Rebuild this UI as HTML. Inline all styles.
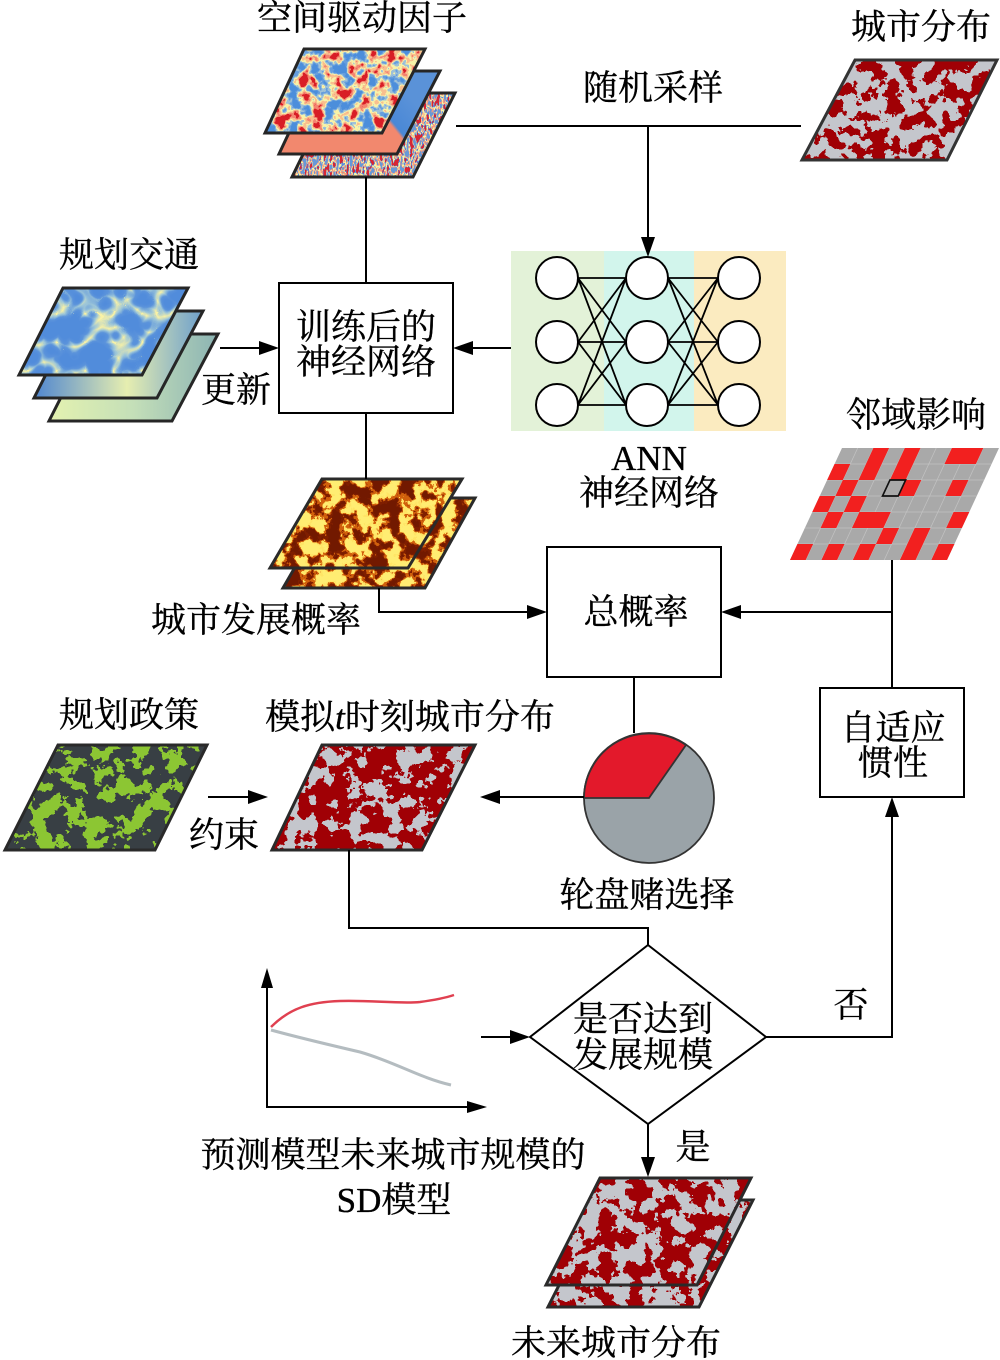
<!DOCTYPE html>
<html><head><meta charset="utf-8"><style>
html,body{margin:0;padding:0;background:#fff;}
svg{display:block;}
text{font-family:"Liberation Serif","Noto Serif CJK SC","Noto Sans CJK SC",serif;font-size:35px;fill:#000;stroke:#000;stroke-width:0.35px;}
</style></head><body>
<svg width="1000" height="1360" viewBox="0 0 1000 1360" xmlns="http://www.w3.org/2000/svg">
<defs>
<filter id="fCity" x="0" y="0" width="1" height="1" color-interpolation-filters="sRGB">
<feTurbulence type="fractalNoise" baseFrequency="0.07" numOctaves="4" seed="5"/>
<feColorMatrix type="matrix" values="3 0 0 0 -0.95  3 0 0 0 -0.95  3 0 0 0 -0.95  0 0 0 0 1"/>
<feComponentTransfer><feFuncR type="discrete" tableValues="0.63 0.77"/><feFuncG type="discrete" tableValues="0.0 0.78"/><feFuncB type="discrete" tableValues="0.02 0.80"/></feComponentTransfer>
<feComposite in2="SourceGraphic" operator="in"/></filter>
<filter id="fSim" x="0" y="0" width="1" height="1" color-interpolation-filters="sRGB">
<feTurbulence type="fractalNoise" baseFrequency="0.06" numOctaves="4" seed="11"/>
<feColorMatrix type="matrix" values="3 0 0 0 -1.1  3 0 0 0 -1.1  3 0 0 0 -1.1  0 0 0 0 1"/>
<feComponentTransfer><feFuncR type="discrete" tableValues="0.63 0.77"/><feFuncG type="discrete" tableValues="0.0 0.78"/><feFuncB type="discrete" tableValues="0.02 0.80"/></feComponentTransfer>
<feComposite in2="SourceGraphic" operator="in"/></filter>
<filter id="fFut" x="0" y="0" width="1" height="1" color-interpolation-filters="sRGB">
<feTurbulence type="fractalNoise" baseFrequency="0.065" numOctaves="4" seed="23"/>
<feColorMatrix type="matrix" values="3 0 0 0 -1.03  3 0 0 0 -1.03  3 0 0 0 -1.03  0 0 0 0 1"/>
<feComponentTransfer><feFuncR type="discrete" tableValues="0.63 0.77"/><feFuncG type="discrete" tableValues="0.0 0.78"/><feFuncB type="discrete" tableValues="0.02 0.80"/></feComponentTransfer>
<feComposite in2="SourceGraphic" operator="in"/></filter>
<filter id="fPol" x="0" y="0" width="1" height="1" color-interpolation-filters="sRGB">
<feTurbulence type="fractalNoise" baseFrequency="0.06" numOctaves="4" seed="7"/>
<feColorMatrix type="matrix" values="3 0 0 0 -1.05  3 0 0 0 -1.05  3 0 0 0 -1.05  0 0 0 0 1"/>
<feComponentTransfer><feFuncR type="discrete" tableValues="0.22 0.55"/><feFuncG type="discrete" tableValues="0.25 0.78"/><feFuncB type="discrete" tableValues="0.27 0.2"/></feComponentTransfer>
<feComposite in2="SourceGraphic" operator="in"/></filter>
<filter id="fProb" x="0" y="0" width="1" height="1" color-interpolation-filters="sRGB">
<feTurbulence type="fractalNoise" baseFrequency="0.07" numOctaves="4" seed="3"/>
<feColorMatrix type="matrix" values="3 0 0 0 -1  3 0 0 0 -1  3 0 0 0 -1  0 0 0 0 1"/>
<feComponentTransfer><feFuncR type="discrete" tableValues="0.45 0.5 0.82 1 1"/><feFuncG type="discrete" tableValues="0.1 0.12 0.38 0.9 0.93"/><feFuncB type="discrete" tableValues="0 0 0.05 0.4 0.45"/></feComponentTransfer>
<feComposite in2="SourceGraphic" operator="in"/></filter>
<filter id="fSp1" x="0" y="0" width="1" height="1" color-interpolation-filters="sRGB">
<feTurbulence type="fractalNoise" baseFrequency="0.08" numOctaves="3" seed="9"/>
<feColorMatrix type="matrix" values="2.5 0 0 0 -0.75  2.5 0 0 0 -0.75  2.5 0 0 0 -0.75  0 0 0 0 1"/>
<feComponentTransfer><feFuncR type="discrete" tableValues="0.3 0.4 0.62 0.97 0.98 0.96 0.85"/><feFuncG type="discrete" tableValues="0.56 0.62 0.76 0.95 0.75 0.52 0.12"/><feFuncB type="discrete" tableValues="0.86 0.87 0.85 0.66 0.56 0.44 0.15"/></feComponentTransfer>
<feComposite in2="SourceGraphic" operator="in"/></filter>
<filter id="fSp3" x="0" y="0" width="1" height="1" color-interpolation-filters="sRGB">
<feTurbulence type="fractalNoise" baseFrequency="0.3 0.12" numOctaves="2" seed="4"/>
<feColorMatrix type="matrix" values="3 0 0 0 -1  3 0 0 0 -1  3 0 0 0 -1  0 0 0 0 1"/>
<feComponentTransfer><feFuncR type="discrete" tableValues="0.85 0.35 0.98 0.98 0.4"/><feFuncG type="discrete" tableValues="0.15 0.55 0.95 0.6 0.6"/><feFuncB type="discrete" tableValues="0.2 0.88 0.65 0.5 0.85"/></feComponentTransfer>
<feComposite in2="SourceGraphic" operator="in"/></filter>
<filter id="fTr" x="0" y="0" width="1" height="1" color-interpolation-filters="sRGB">
<feTurbulence type="turbulence" baseFrequency="0.035" numOctaves="2" seed="6"/>
<feColorMatrix type="matrix" values="2.5 0 0 0 0  2.5 0 0 0 0  2.5 0 0 0 0  0 0 0 0 1"/>
<feComponentTransfer><feFuncR type="table" tableValues="0.98 0.62 0.36 0.32"/><feFuncG type="table" tableValues="0.95 0.78 0.58 0.55"/><feFuncB type="table" tableValues="0.65 0.85 0.86 0.86"/></feComponentTransfer>
<feComposite in2="SourceGraphic" operator="in"/></filter>
<linearGradient id="gTr2" x1="0" y1="0" x2="1" y2="0">
<stop offset="0" stop-color="#4f86d0"/><stop offset="0.55" stop-color="#e6eeb0"/><stop offset="1" stop-color="#6d9fcc"/></linearGradient>
<linearGradient id="gTr3" x1="0" y1="0" x2="1" y2="0">
<stop offset="0" stop-color="#e4f2b0"/><stop offset="0.5" stop-color="#c4dfb8"/><stop offset="1" stop-color="#8cb4b4"/></linearGradient>
<linearGradient id="gSp2" gradientUnits="userSpaceOnUse" x1="370" y1="150" x2="420" y2="110">
<stop offset="0" stop-color="#f2886e"/><stop offset="0.5" stop-color="#f2886e"/><stop offset="0.55" stop-color="#4a88d6"/><stop offset="1" stop-color="#5a92d8"/></linearGradient>
</defs>

<!-- Spatial driving factor layers -->
<polygon points="333,93 455,93 413,177 292,177" fill="#000" filter="url(#fSp3)"/>
<polygon points="333,93 455,93 413,177 292,177" fill="none" stroke="#262626" stroke-width="3"/>
<polygon points="318,71 440,71 397,154 279,154" fill="url(#gSp2)" stroke="#262626" stroke-width="3"/>
<polygon points="304,49 425,49 382,133 265,133" fill="#000" filter="url(#fSp1)"/>
<polygon points="304,49 425,49 382,133 265,133" fill="none" stroke="#262626" stroke-width="3"/>

<!-- Traffic layers -->
<polygon points="93,334 218,334 172,421 49,421" fill="url(#gTr3)" stroke="#262626" stroke-width="3"/>
<polygon points="78,311 203,311 157,398 34,398" fill="url(#gTr2)" stroke="#262626" stroke-width="3"/>
<polygon points="63,288 188,288 142,375 19,375" fill="#000" filter="url(#fTr)"/>
<polygon points="63,288 188,288 142,375 19,375" fill="none" stroke="#262626" stroke-width="3"/>

<!-- City distribution top right -->
<polygon points="855,60 997,60 947,160 802,160" fill="#000" filter="url(#fCity)"/>
<polygon points="855,60 997,60 947,160 802,160" fill="none" stroke="#333" stroke-width="3"/>

<!-- ANN -->
<rect x="511" y="251" width="93" height="180" fill="#e3f2d8"/>
<rect x="604" y="251" width="90" height="180" fill="#d2f5ec"/>
<rect x="694" y="251" width="92" height="180" fill="#fbebc0"/>
<g stroke="#000" stroke-width="1.8">
<path d="M578 278L626 278M578 278L626 342M578 278L626 405M578 342L626 278M578 342L626 342M578 342L626 405M578 405L626 278M578 405L626 342M578 405L626 405"/>
<path d="M668 278L718 278M668 278L718 342M668 278L718 405M668 342L718 278M668 342L718 342M668 342L718 405M668 405L718 278M668 405L718 342M668 405L718 405"/>
</g>
<g fill="#fff" stroke="#000" stroke-width="2">
<circle cx="557" cy="278" r="21"/><circle cx="557" cy="342" r="21"/><circle cx="557" cy="405" r="21"/>
<circle cx="647" cy="278" r="21"/><circle cx="647" cy="342" r="21"/><circle cx="647" cy="405" r="21"/>
<circle cx="739" cy="278" r="21"/><circle cx="739" cy="342" r="21"/><circle cx="739" cy="405" r="21"/>
</g>

<!-- Neighborhood grid -->
<g transform="translate(842,448) skewX(-24.9)">
<rect x="0" y="0" width="157" height="112" fill="#a9a9a9"/>
<g stroke="#c2c2c2" stroke-width="0.8">
<path d="M0 16H157M0 32H157M0 48H157M0 64H157M0 80H157M0 96H157"/>
<path d="M15.7 0V112M31.4 0V112M47.1 0V112M62.8 0V112M78.5 0V112M94.2 0V112M109.9 0V112M125.6 0V112M141.3 0V112"/>
</g>
<g fill="#f2201f">
<rect x="31.4" y="0" width="15.7" height="16"/><rect x="62.8" y="0" width="15.7" height="16"/><rect x="109.9" y="0" width="31.4" height="16"/>
<rect x="0" y="16" width="15.7" height="16"/><rect x="31.4" y="16" width="15.7" height="16"/><rect x="62.8" y="16" width="15.7" height="16"/>
<rect x="15.7" y="32" width="15.7" height="16"/><rect x="78.5" y="32" width="15.7" height="16"/><rect x="125.6" y="32" width="15.7" height="16"/>
<rect x="0" y="48" width="15.7" height="16"/><rect x="31.4" y="48" width="15.7" height="16"/>
<rect x="15.7" y="64" width="15.7" height="16"/><rect x="47.1" y="64" width="31.4" height="16"/><rect x="141.3" y="64" width="15.7" height="16"/>
<rect x="78.5" y="80" width="15.7" height="16"/><rect x="109.9" y="80" width="15.7" height="16"/>
<rect x="0" y="96" width="15.7" height="16"/><rect x="31.4" y="96" width="15.7" height="16"/><rect x="62.8" y="96" width="15.7" height="16"/><rect x="109.9" y="96" width="15.7" height="16"/><rect x="141.3" y="96" width="15.7" height="16"/>
</g>
<rect x="62.8" y="32" width="15.7" height="16" fill="none" stroke="#111" stroke-width="1.8"/>
</g>

<!-- Probability layers -->
<polygon points="335,498 475,498 425,588 283,588" fill="#000" filter="url(#fProb)"/>
<polygon points="335,498 475,498 425,588 283,588" fill="none" stroke="#2a2a2a" stroke-width="3"/>
<polygon points="322,479 462,479 408,568 270,568" fill="#000" filter="url(#fProb)"/>
<polygon points="322,479 462,479 408,568 270,568" fill="none" stroke="#2a2a2a" stroke-width="3"/>

<!-- Policy map -->
<polygon points="58,745 207,745 155,850 5,850" fill="#000" filter="url(#fPol)"/>
<polygon points="58,745 207,745 155,850 5,850" fill="none" stroke="#2a2a2a" stroke-width="3"/>

<!-- Simulated map -->
<polygon points="322,745 475,745 422,850 272,850" fill="#000" filter="url(#fSim)"/>
<polygon points="322,745 475,745 422,850 272,850" fill="none" stroke="#2a2a2a" stroke-width="3"/>

<!-- Future maps -->
<polygon points="602,1200 753,1200 699,1307 548,1307" fill="#000" filter="url(#fCity)"/>
<polygon points="602,1200 753,1200 699,1307 548,1307" fill="none" stroke="#2a2a2a" stroke-width="3"/>
<polygon points="600,1178 751,1178 697,1285 546,1285" fill="#000" filter="url(#fFut)"/>
<polygon points="600,1178 751,1178 697,1285 546,1285" fill="none" stroke="#2a2a2a" stroke-width="3"/>

<!-- Pie -->
<circle cx="649" cy="798" r="65" fill="#9aa3a8" stroke="#333" stroke-width="1.8"/>
<path d="M649 798 L584 798 A65 65 0 0 1 686 745 Z" fill="#e3192b" stroke="#333" stroke-width="1.8"/>

<!-- Boxes -->
<g fill="#fff" stroke="#000" stroke-width="2">
<rect x="279" y="283" width="174" height="130"/>
<rect x="547" y="547" width="174" height="130"/>
<rect x="820" y="688" width="144" height="109"/>
<polygon points="648,945 766,1037 648,1124 530,1037"/>
</g>

<!-- Connectors -->
<g fill="none" stroke="#000" stroke-width="2">
<path d="M366 177V283"/>
<path d="M456 126H801"/>
<path d="M648 126V240"/>
<path d="M220 348H262"/>
<path d="M511 348H470"/>
<path d="M366 413V479"/>
<path d="M379 588V612H530"/>
<path d="M892 560V688"/>
<path d="M892 612H738"/>
<path d="M634 677V733"/>
<path d="M584 797H497"/>
<path d="M208 797H251"/>
<path d="M349 850V928H648V945"/>
<path d="M481 1037H513"/>
<path d="M766 1037H892V814"/>
<path d="M648 1124V1160"/>
<path d="M267 985V1107H470"/>
</g>
<g fill="#000">
<polygon points="648,257 641,237 655,237"/>
<polygon points="279,348 259,341 259,355"/>
<polygon points="453,348 473,341 473,355"/>
<polygon points="547,612 527,605 527,619"/>
<polygon points="721,612 741,605 741,619"/>
<polygon points="480,797 500,790 500,804"/>
<polygon points="268,797 248,790 248,804"/>
<polygon points="530,1037 510,1030 510,1044"/>
<polygon points="892,797 885,817 899,817"/>
<polygon points="648,1177 641,1157 655,1157"/>
<polygon points="267,968 261,988 273,988"/>
<polygon points="487,1107 467,1101 467,1113"/>
</g>

<!-- SD curves -->
<path d="M271 1027 C290 1008 310 1002 340 1001 C370 1000 400 1004 420 1002 C435 1000 445 998 454 995" fill="none" stroke="#e04050" stroke-width="2.5"/>
<path d="M271 1030 C300 1038 330 1045 360 1052 C395 1062 420 1078 451 1085" fill="none" stroke="#b4bcc0" stroke-width="3"/>

<!-- Text -->
<g text-anchor="middle">
<text x="362" y="30">空间驱动因子</text>
<text x="653" y="100">随机采样</text>
<text x="921" y="39">城市分布</text>
<text x="129" y="267">规划交通</text>
<text x="236" y="402">更新</text>
<text x="366" y="339">训练后的</text>
<text x="366" y="374">神经网络</text>
<text x="649" y="470">ANN</text>
<text x="649" y="505">神经网络</text>
<text x="916" y="427">邻域影响</text>
<text x="256" y="632">城市发展概率</text>
<text x="636" y="624">总概率</text>
<text x="129" y="727">规划政策</text>
<text x="410" y="729">模拟<tspan font-style="italic">t</tspan>时刻城市分布</text>
<text x="224" y="847">约束</text>
<text x="893" y="740">自适应</text>
<text x="893" y="775">惯性</text>
<text x="647" y="907">轮盘赌选择</text>
<text x="643" y="1031">是否达到</text>
<text x="643" y="1067">发展规模</text>
<text x="851" y="1017">否</text>
<text x="693" y="1159">是</text>
<text x="393" y="1167">预测模型未来城市规模的</text>
<text x="394" y="1212">SD模型</text>
<text x="616" y="1355">未来城市分布</text>
</g>
</svg>
</body></html>
